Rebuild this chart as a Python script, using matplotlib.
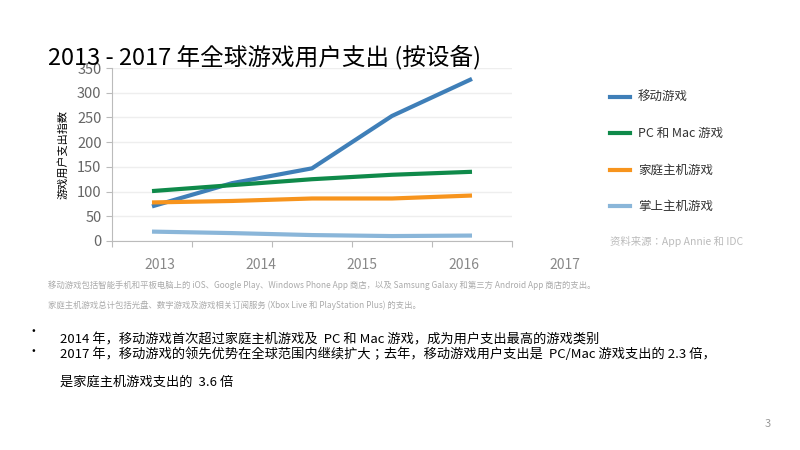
import matplotlib
matplotlib.use("Agg")
import matplotlib.pyplot as plt

plt.rcParams["font.family"] = ["Noto Sans CJK JP", "DejaVu Sans"]

years = ["2013", "2014", "2015", "2016", "2017"]
series_names = ["移动游戏", "PC 和 Mac 游戏", "家庭主机游戏", "掌上主机游戏"]
mobile = [70, 117, 147, 253, 328]
pc_mac = [101, 113, 125, 134, 140]
console = [78, 81, 86, 86, 92]
handheld = [19, 16, 12, 10, 11]
colors = ["#3f7fb8", "#0f8a4a", "#f7941d", "#8ab6d9"]
yticks = [0, 50, 100, 150, 200, 250, 300, 350]

fig = plt.figure(figsize=(8, 4.5), dpi=100)
ax = fig.add_axes([112/800, 1-241/450, 400/800, 173/450])
xs = [i + 0.5 for i in range(len(years))]
for vals, c, n in zip([mobile, pc_mac, console, handheld], colors, series_names):
    ax.plot(xs, vals, color=c, lw=3, solid_capstyle="butt", label=n)
ax.set_xlim(0, 5)
ax.set_ylim(0, 350)
ax.set_yticks(yticks)
ax.set_yticklabels([str(v) for v in yticks], color="#666666", fontsize=10.5)
ax.set_xticks(range(6))
ax.set_xticklabels([])
ax.tick_params(axis="x", length=4, color="#bbbbbb", direction="out")
ax.tick_params(axis="y", length=4, color="#bbbbbb")
ax.grid(axis="y", color="#eeeeee", lw=1)
ax.set_axisbelow(True)
for s in ["top", "right"]:
    ax.spines[s].set_visible(False)
for s in ["left", "bottom"]:
    ax.spines[s].set_color("#bbbbbb")
ax.set_ylabel("游戏用户支出指数", fontsize=8, labelpad=6)
for i, y in enumerate(years):
    ax.text(0.6 + i * 1.265, -0.1, y, transform=ax.get_xaxis_transform(),
            ha="center", va="top", fontsize=10, color="#888888")

fig.text(48/800, 1-57/450, "2013 - 2017 年全球游戏用户支出 (按设备)", fontsize=17, va="center")

leg_y = [97, 133, 170, 206]
for c, n, y in zip(colors, series_names, leg_y):
    fig.add_artist(plt.Line2D([610/800, 630/800], [1-y/450]*2, color=c, lw=3))
    fig.text(638/800, 1-y/450, n, fontsize=9, va="center", color="#333333")
fig.text(610/800, 1-241/450, "资料来源：App Annie 和 IDC", fontsize=7.5, va="center", color="#bbbbbb")

fig.text(48/800, 1-285/450, "移动游戏包括智能手机和平板电脑上的 iOS、Google Play、Windows Phone App 商店，以及 Samsung Galaxy 和第三方 Android App 商店的支出。",
         fontsize=6, color="#aaaaaa", va="center")
fig.text(48/800, 1-305/450, "家庭主机游戏总计包括光盘、数字游戏及游戏相关订阅服务 (Xbox Live 和 PlayStation Plus) 的支出。",
         fontsize=6, color="#aaaaaa", va="center")
fig.text(32/800, 1-331/450, "•", fontsize=8, va="center")
fig.text(32/800, 1-351/450, "•", fontsize=8, va="center")
fig.text(60/800, 1-340/450, "2014 年，移动游戏首次超过家庭主机游戏及  PC 和 Mac 游戏，成为用户支出最高的游戏类别", fontsize=9.5, va="center")
fig.text(60/800, 1-354/450, "2017 年，移动游戏的领先优势在全球范围内继续扩大；去年，移动游戏用户支出是  PC/Mac 游戏支出的 2.3 倍，", fontsize=9.5, va="center")
fig.text(60/800, 1-382/450, "是家庭主机游戏支出的  3.6 倍", fontsize=9.5, va="center")
fig.text(765/800, 1-424/450, "3", fontsize=8, color="#999999", va="center")

fig.savefig("out.png", dpi=100)
